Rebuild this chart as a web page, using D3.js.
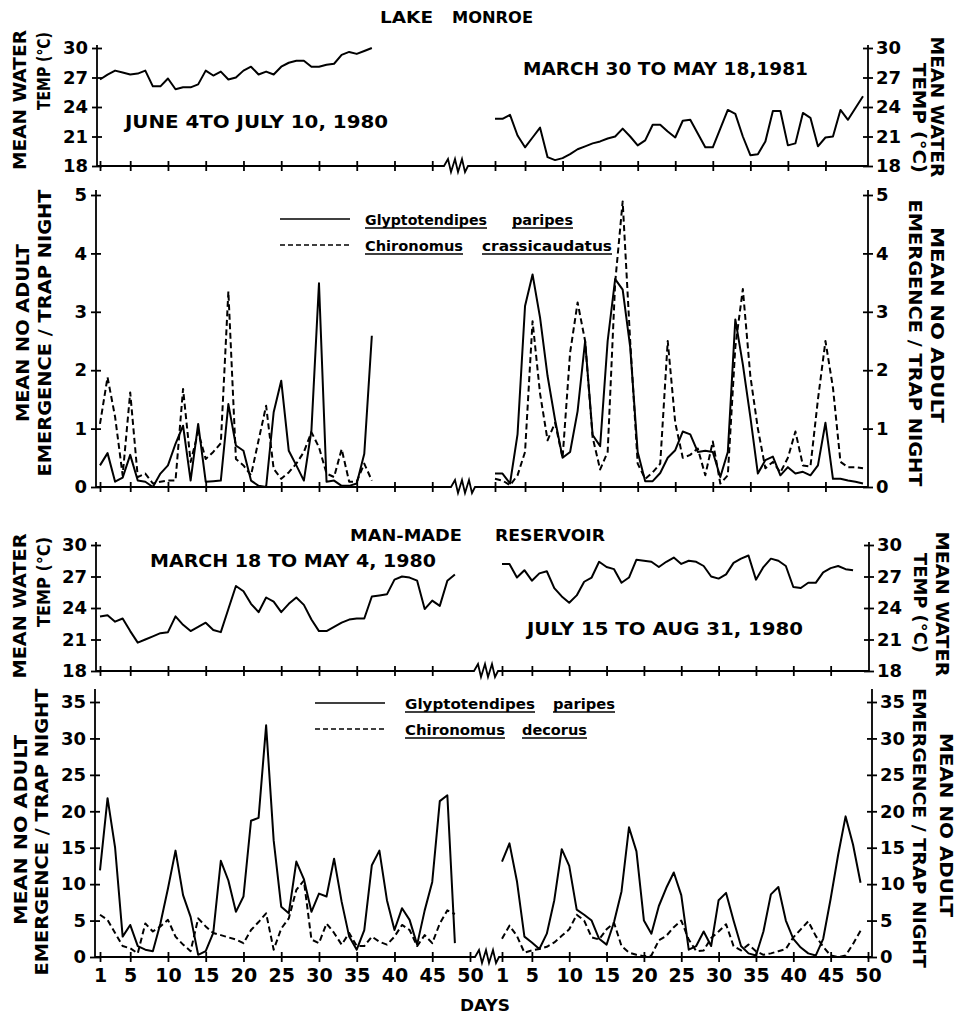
<!DOCTYPE html>
<html>
<head>
<meta charset="utf-8">
<script src="https://cdn.jsdelivr.net/npm/d3@7"></script>
<style>
  body { margin: 0; background: #fff; }
  svg { display: block; }
  text { font-family: 'DejaVu Sans', sans-serif; font-weight: bold; fill: #000; }
</style>
</head>
<body>
<svg id="canvas"></svg>
<script>
// ---- data (one value per day) ----
const monroeTemp1980 = [26.8, 27.3, 27.7, 27.5, 27.3, 27.4, 27.7, 26.1, 26.1, 26.9, 25.8, 26.0, 26.0, 26.3, 27.7, 27.2, 27.6, 26.8, 27.0, 27.7, 28.1, 27.3, 27.6, 27.3, 28.1, 28.5, 28.7, 28.7, 28.1, 28.1, 28.3, 28.4, 29.3, 29.6, 29.4, 29.7, 30.0]
const monroeTemp1981 = [22.8, 22.8, 23.2, 21.1, 19.9, 20.9, 21.9, 18.9, 18.6, 18.8, 19.2, 19.7, 20.0, 20.3, 20.5, 20.8, 21.0, 21.8, 21.0, 20.1, 20.6, 22.2, 22.2, 21.5, 20.9, 22.6, 22.7, 21.3, 19.9, 19.9, 21.8, 23.7, 23.3, 21.0, 19.1, 19.2, 20.5, 23.6, 23.6, 20.1, 20.3, 23.4, 22.9, 20.0, 20.9, 21.0, 23.7, 22.7, 23.9, 25.1]
const monroeGlypto1980 = [0.37, 0.58, 0.09, 0.16, 0.55, 0.11, 0.09, 0.0, 0.23, 0.37, 0.74, 1.05, 0.11, 1.08, 0.09, 0.1, 0.11, 1.42, 0.71, 0.62, 0.11, 0.02, 0.0, 1.28, 1.82, 0.62, 0.37, 0.11, 0.97, 3.49, 0.09, 0.11, 0.02, 0.02, 0.06, 0.57, 2.59]
const monroeChiro1980 = [1.08, 1.88, 1.2, 0.2, 1.62, 0.17, 0.23, 0.06, 0.09, 0.11, 0.11, 1.68, 0.43, 0.94, 0.48, 0.6, 0.75, 3.35, 0.48, 0.37, 0.2, 0.8, 1.39, 0.31, 0.14, 0.25, 0.4, 0.6, 0.94, 0.68, 0.23, 0.17, 0.65, 0.09, 0.09, 0.4, 0.11]
const monroeGlypto1981 = [0.23, 0.23, 0.06, 0.9, 3.1, 3.64, 2.9, 1.9, 1.15, 0.5, 0.6, 1.3, 2.5, 0.89, 0.7, 2.5, 3.56, 3.38, 2.4, 0.6, 0.1, 0.1, 0.24, 0.5, 0.63, 0.95, 0.9, 0.6, 0.62, 0.6, 0.17, 0.6, 2.87, 2.1, 1.2, 0.23, 0.46, 0.52, 0.2, 0.34, 0.23, 0.26, 0.2, 0.37, 1.1, 0.14, 0.14, 0.11, 0.09, 0.06]
const monroeChiro1981 = [0.14, 0.11, 0.03, 0.2, 0.6, 2.84, 1.6, 0.8, 1.1, 0.5, 2.3, 3.16, 2.5, 0.85, 0.3, 0.6, 3.5, 4.89, 2.5, 0.4, 0.14, 0.25, 0.4, 2.5, 1.1, 0.5, 0.55, 0.66, 0.2, 0.78, 0.06, 0.2, 2.4, 3.39, 1.9, 1.0, 0.32, 0.43, 0.25, 0.5, 0.95, 0.37, 0.35, 1.5, 2.5, 1.7, 0.43, 0.34, 0.34, 0.32]

const resTempSpring = [23.2, 23.3, 22.7, 23.0, 21.8, 20.7, 21.0, 21.3, 21.6, 21.7, 23.2, 22.4, 21.8, 22.2, 22.6, 21.9, 21.7, 23.9, 26.1, 25.6, 24.4, 23.6, 25.0, 24.6, 23.6, 24.4, 25.0, 24.3, 22.9, 21.8, 21.8, 22.2, 22.6, 22.9, 23.0, 23.0, 25.1, 25.2, 25.3, 26.7, 27.0, 26.9, 26.6, 23.9, 24.7, 24.2, 26.6, 27.2]
const resTempSummer = [28.2, 28.2, 26.9, 27.6, 26.6, 27.3, 27.5, 25.9, 25.1, 24.5, 25.2, 26.5, 26.9, 28.4, 27.9, 27.7, 26.4, 26.9, 28.6, 28.5, 28.4, 27.9, 28.4, 28.8, 28.2, 28.5, 28.4, 28.0, 27.0, 26.8, 27.2, 28.3, 28.7, 29.0, 26.7, 27.9, 28.7, 28.5, 28.0, 26.0, 25.9, 26.4, 26.4, 27.4, 27.8, 28.0, 27.7, 27.6]
const resGlyptoSpring = [11.9, 21.8, 15.0, 2.8, 4.4, 1.5, 1.0, 0.8, 4.6, 9.4, 14.6, 8.5, 5.5, 0.3, 0.8, 3.3, 13.2, 10.5, 6.2, 8.3, 18.7, 19.1, 31.8, 16.0, 6.9, 6.0, 13.1, 10.7, 6.2, 8.7, 8.3, 13.5, 7.6, 2.8, 1.0, 3.7, 12.6, 14.6, 7.8, 3.7, 6.7, 5.1, 1.7, 6.4, 10.3, 21.4, 22.2, 1.9]
const resDecorusSpring = [5.8, 5.1, 3.3, 1.5, 1.2, 0.5, 4.6, 3.5, 4.2, 5.1, 2.8, 1.7, 0.8, 5.3, 4.2, 3.3, 3.0, 2.7, 2.4, 1.9, 3.7, 4.8, 6.0, 1.0, 3.9, 5.3, 9.2, 10.5, 2.4, 1.9, 4.6, 3.3, 1.7, 3.3, 1.5, 1.5, 2.8, 2.1, 1.7, 2.8, 4.4, 3.7, 1.5, 3.0, 1.9, 4.6, 6.4, 5.9]
const resGlyptoSummer = [13.1, 15.6, 10.4, 2.8, 2.0, 1.1, 3.2, 7.8, 14.8, 12.5, 6.5, 5.8, 5.0, 2.5, 1.7, 4.8, 9.0, 17.8, 14.5, 5.0, 3.2, 7.0, 9.5, 11.6, 8.5, 1.0, 1.5, 3.5, 1.5, 7.8, 8.8, 5.0, 1.5, 0.5, 0.2, 3.5, 8.6, 9.6, 5.0, 2.5, 1.3, 0.5, 0.2, 2.5, 8.0, 14.0, 19.3, 15.4, 10.2]
const resDecorusSummer = [2.5, 4.3, 2.9, 0.6, 0.9, 1.1, 1.4, 2.0, 2.9, 3.8, 5.8, 5.0, 2.7, 2.4, 3.8, 4.7, 1.5, 0.6, 0.3, 0.1, 0.2, 2.3, 2.9, 4.1, 5.0, 2.4, 0.8, 0.9, 2.6, 3.5, 4.5, 1.5, 0.9, 1.7, 0.8, 0.3, 0.5, 0.8, 1.1, 2.7, 3.8, 4.9, 2.9, 1.4, 0.2, 0.0, 0.2, 1.8, 3.6]

const dayTicks = [1, 5, 10, 15, 20, 25, 30, 35, 40, 45, 50]
const tempTicks = [18, 21, 24, 27, 30]
const monroeEmergTicks = [0, 1, 2, 3, 4, 5]
const resEmergTicks = [0, 5, 10, 15, 20, 25, 30, 35]

const canvas = d3.select('#canvas')

const generateCanvas = () => {
  canvas.attr('width', 960).attr('height', 1016)
}

// day scales: each of the two sampling periods gets its own segment
const xMonroeLeft = d3.scaleLinear().domain([1, 50]).range([100, 470])
const xMonroeRight = d3.scaleLinear().domain([1, 50]).range([495, 863])
const xResLeft = d3.scaleLinear().domain([1, 50]).range([100, 470])
const xResRight = d3.scaleLinear().domain([1, 50]).range([502, 868])

const yMonroeTemp = d3.scaleLinear().domain([18, 30]).range([166, 48])
const yMonroeEmerg = d3.scaleLinear().domain([0, 5]).range([487, 195])
const yResTemp = d3.scaleLinear().domain([18, 30]).range([671, 545])
const yResEmerg = d3.scaleLinear().domain([0, 35]).range([957, 702])

const styleAxis = g => {
  g.attr('font-family', null).attr('font-size', null)
  g.select('.domain').remove()
  g.selectAll('.tick line').attr('stroke', '#000').attr('stroke-width', 1.8)
  g.selectAll('.tick text').attr('font-size', 18).attr('fill', '#000')
}

const generateFrame = p => {
  // y axes, "+" style ticks
  const gl = canvas.append('g')
                   .attr('transform', `translate(${p.left},0)`)
                   .call(d3.axisLeft(p.y).tickValues(p.yTicks).tickSize(5).tickPadding(4).tickFormat(d3.format('d')))
  styleAxis(gl)
  gl.selectAll('.tick line').attr('x1', 5)

  const gr = canvas.append('g')
                   .attr('transform', `translate(${p.right},0)`)
                   .call(d3.axisRight(p.y).tickValues(p.yTicks).tickSize(5).tickPadding(3).tickFormat(d3.format('d')))
  styleAxis(gr)
  gr.selectAll('.tick line').attr('x1', -5)

  // day ticks, labels only on the lowest panel
  const fmt = p.dayLabels ? d3.format('d') : () => ''
  ;[[p.xL, p.ticksL], [p.xR, p.ticksR]].forEach(([x, ticks]) => {
    const gx = canvas.append('g')
                     .attr('transform', `translate(0,${p.bottom})`)
                     .call(d3.axisBottom(x).tickValues(ticks).tickSize(5).tickPadding(7).tickFormat(fmt))
    styleAxis(gx)
    gx.selectAll('.tick line').attr('y1', -5)
    gx.selectAll('.tick text').attr('font-size', 19)
  })

  const b = p.bottom
  const k = p.breakAt
  const frame = `M${p.left},${p.top} V${b} H${k} l4,0 l4,-7 l3,13 l4,-13 l3,13 l4,-13 l3,13 l3,-6 H${p.right} V${p.top}`
  canvas.append('path')
        .attr('d', frame)
        .attr('fill', 'none')
        .attr('stroke', '#000')
        .attr('stroke-width', 1.8)
}

const generateSeries = (values, x, y, dash) => {
  const line = d3.line()
                 .x((_, i) => x(i + 1))
                 .y(d => y(d))
  canvas.append('path')
        .datum(values)
        .attr('d', line)
        .attr('fill', 'none')
        .attr('stroke', '#000')
        .attr('stroke-width', 2)
        .attr('stroke-linejoin', 'round')
        .attr('stroke-dasharray', dash ? '6,3.5' : null)
}

const label = (str, x, y, size, len, anchor = 'start') => {
  canvas.append('text')
        .attr('x', x)
        .attr('y', y)
        .attr('font-size', size)
        .attr('text-anchor', anchor)
        .attr('textLength', len)
        .attr('lengthAdjust', 'spacingAndGlyphs')
        .text(str)
}

const vLabel = (str, x, cy, len, angle) => {
  canvas.append('text')
        .attr('transform', `translate(${x},${cy}) rotate(${angle})`)
        .attr('font-size', 17)
        .attr('text-anchor', 'middle')
        .attr('textLength', len)
        .attr('lengthAdjust', 'spacingAndGlyphs')
        .text(str)
}

const legendWord = (str, x, y, len) => {
  canvas.append('text')
        .attr('x', x)
        .attr('y', y)
        .attr('font-size', 14)
        .attr('font-family', "'DejaVu Sans Condensed', 'DejaVu Sans', sans-serif")
        .attr('textLength', len)
        .attr('lengthAdjust', 'spacingAndGlyphs')
        .text(str)
  canvas.append('line')
        .attr('x1', x).attr('x2', x + len)
        .attr('y1', y + 3).attr('y2', y + 3)
        .attr('stroke', '#000')
        .attr('stroke-width', 1.6)
}

const generateLegend = (lx0, lx1, rows) => {
  rows.forEach(r => {
    canvas.append('line')
          .attr('x1', lx0).attr('x2', lx1)
          .attr('y1', r.y - 6).attr('y2', r.y - 6)
          .attr('stroke', '#000')
          .attr('stroke-width', 1.6)
          .attr('stroke-dasharray', r.dash ? '5,3' : null)
    r.words.forEach(w => legendWord(w[0], w[1], r.y, w[2]))
  })
}

const generateChart = () => {
  const topTicks = dayTicks.slice(0, 10)

  // Lake Monroe, water temperature
  generateFrame({ y: yMonroeTemp, yTicks: tempTicks, left: 97, right: 868, top: 45, bottom: 166,
                  xL: xMonroeLeft, xR: xMonroeRight, ticksL: topTicks, ticksR: topTicks, breakAt: 440 })
  generateSeries(monroeTemp1980, xMonroeLeft, yMonroeTemp, false)
  generateSeries(monroeTemp1981, xMonroeRight, yMonroeTemp, false)

  // Lake Monroe, emergence
  generateFrame({ y: yMonroeEmerg, yTicks: monroeEmergTicks, left: 96, right: 868, top: 190, bottom: 487,
                  xL: xMonroeLeft, xR: xMonroeRight, ticksL: topTicks, ticksR: topTicks, breakAt: 447 })
  generateSeries(monroeGlypto1980, xMonroeLeft, yMonroeEmerg, false)
  generateSeries(monroeChiro1980, xMonroeLeft, yMonroeEmerg, true)
  generateSeries(monroeGlypto1981, xMonroeRight, yMonroeEmerg, false)
  generateSeries(monroeChiro1981, xMonroeRight, yMonroeEmerg, true)

  // reservoir, water temperature
  generateFrame({ y: yResTemp, yTicks: tempTicks, left: 96, right: 869, top: 542, bottom: 671,
                  xL: xResLeft, xR: xResRight, ticksL: topTicks, ticksR: topTicks, breakAt: 470 })
  generateSeries(resTempSpring, xResLeft, yResTemp, false)
  generateSeries(resTempSummer, xResRight, yResTemp, false)

  // reservoir, emergence
  generateFrame({ y: yResEmerg, yTicks: resEmergTicks, left: 95, right: 872, top: 689, bottom: 957,
                  xL: xResLeft, xR: xResRight, ticksL: dayTicks, ticksR: dayTicks, breakAt: 471, dayLabels: true })
  generateSeries(resGlyptoSpring, xResLeft, yResEmerg, false)
  generateSeries(resDecorusSpring, xResLeft, yResEmerg, true)
  generateSeries(resGlyptoSummer, xResRight, yResEmerg, false)
  generateSeries(resDecorusSummer, xResRight, yResEmerg, true)

  // legends
  generateLegend(280, 350, [
    { y: 225, dash: false, words: [['Glyptotendipes', 365, 122], ['paripes', 512, 61]] },
    { y: 251, dash: true, words: [['Chironomus', 365, 98], ['crassicaudatus', 482, 130]] }
  ])
  generateLegend(315, 385, [
    { y: 709, dash: false, words: [['Glyptotendipes', 405, 130], ['paripes', 553, 62]] },
    { y: 735, dash: true, words: [['Chironomus', 405, 100], ['decorus', 522, 65]] }
  ])

  // titles and period labels
  label('LAKE', 380, 23, 16, 53)
  label('MONROE', 452, 23, 16, 81)
  label('MAN-MADE', 350, 541, 16, 112)
  label('RESERVOIR', 495, 541, 16, 110)
  label('JUNE 4TO JULY 10, 1980', 125, 128, 18, 263)
  label('MARCH 30 TO MAY 18,1981', 523, 75, 18, 285)
  label('MARCH 18 TO MAY 4, 1980', 150, 567, 18, 286)
  label('JULY 15 TO AUG 31, 1980', 527, 635, 18, 276)
  label('DAYS', 460, 1011, 16, 50)

  // axis titles, left side
  vLabel('MEAN WATER', 26, 100, 140, -90)
  vLabel('TEMP (°C)', 50, 71, 78, -90)
  vLabel('MEAN NO ADULT', 29, 333, 178, -90)
  vLabel('EMERGENCE / TRAP NIGHT', 51, 333, 287, -90)
  vLabel('MEAN WATER', 26, 606, 145, -90)
  vLabel('TEMP (°C)', 50, 582, 90, -90)
  vLabel('MEAN NO ADULT', 27, 830, 190, -90)
  vLabel('EMERGENCE / TRAP NIGHT', 48, 832, 287, -90)

  // axis titles, right side
  vLabel('MEAN WATER', 931, 107, 141, 90)
  vLabel('TEMP (°C)', 913, 118, 110, 90)
  vLabel('MEAN NO ADULT', 931, 325, 196, 90)
  vLabel('EMERGENCE / TRAP NIGHT', 909, 343, 287, 90)
  vLabel('MEAN WATER', 936, 604, 145, 90)
  vLabel('TEMP (°C)', 914, 603, 100, 90)
  vLabel('MEAN NO ADULT', 940, 825, 184, 90)
  vLabel('EMERGENCE / TRAP NIGHT', 913, 828, 280, 90)
}

generateCanvas()
generateChart()
</script>
</body>
</html>
